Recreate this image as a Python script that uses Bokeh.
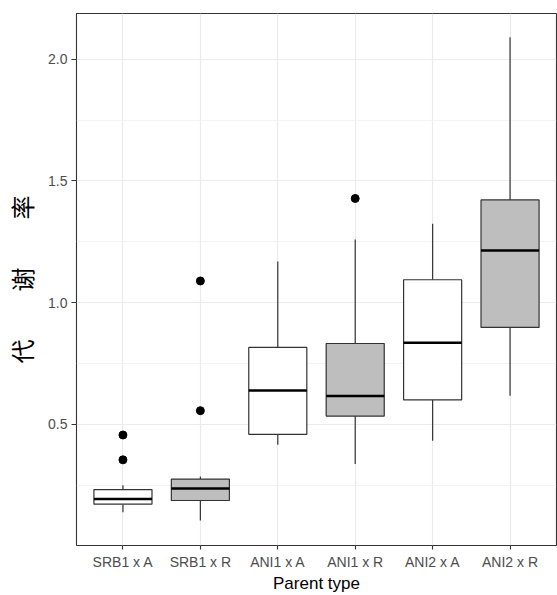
from bokeh.plotting import figure
from bokeh.models import FactorRange, Range1d, FixedTicker, PrintfTickFormatter, ColumnDataSource
from bokeh.embed import file_html
from bokeh.resources import INLINE

# ---- data ----
categories = ["SRB1 x A", "SRB1 x R", "ANI1 x A", "ANI1 x R", "ANI2 x A", "ANI2 x R"]
lower_whisker = [0.139, 0.105, 0.416, 0.337, 0.432, 0.617]
q1 = [0.172, 0.187, 0.459, 0.534, 0.600, 0.898]
median = [0.193, 0.236, 0.639, 0.616, 0.835, 1.214]
q3 = [0.232, 0.275, 0.816, 0.832, 1.094, 1.422]
upper_whisker = [0.250, 0.286, 1.169, 1.259, 1.324, 2.090]
outlier_cat = ["SRB1 x A", "SRB1 x A", "SRB1 x R", "SRB1 x R", "ANI1 x R"]
outlier_val = [0.456, 0.354, 0.556, 1.089, 1.428]
y_ticks = [0.5, 1.0, 1.5, 2.0]
y_minor = [0.25, 0.75, 1.25, 1.75]

# ---- styles ----
fills = ["#BEBEBE" if c.endswith("R") else "#FFFFFF" for c in categories]
half = 0.375

src = ColumnDataSource(dict(
    cat=categories, lo=lower_whisker, q1=q1, med=median, q3=q3, hi=upper_whisker,
    fill=fills,
    left=[(c, -half) for c in categories],
    right=[(c, half) for c in categories],
))

p = figure(
    width=557, height=595,
    x_range=FactorRange(*categories, range_padding=0.1, range_padding_units="absolute"),
    y_range=Range1d(0.002, 2.188),
    output_backend="svg", toolbar_location=None,
    min_border_left=76, min_border_right=1, min_border_top=13, min_border_bottom=48,
)

# whiskers
p.segment(x0="cat", y0="q3", x1="cat", y1="hi", source=src, line_color="#333333", line_width=1.2)
p.segment(x0="cat", y0="q1", x1="cat", y1="lo", source=src, line_color="#333333", line_width=1.2)
# boxes
p.vbar(x="cat", width=2 * half, bottom="q1", top="q3", source=src,
       fill_color="fill", line_color="#333333", line_width=1.2)
# medians
p.segment(x0="left", y0="med", x1="right", y1="med", source=src, line_color="#000000", line_width=2.5)
# outliers
p.scatter(x=outlier_cat, y=outlier_val, size=8, color="#000000")

# axes & grid (theme_bw look)
p.outline_line_color = "#333333"
p.outline_line_width = 1.1
p.background_fill_color = "white"
p.border_fill_color = "white"

p.xgrid.grid_line_color = "#EBEBEB"
p.xgrid.grid_line_width = 1.2
p.ygrid.grid_line_color = "#EBEBEB"
p.ygrid.grid_line_width = 1.2
p.ygrid.minor_grid_line_color = "#F0F0F0"
p.ygrid.minor_grid_line_width = 0.8

p.yaxis.ticker = FixedTicker(ticks=y_ticks, minor_ticks=y_minor)
p.yaxis.formatter = PrintfTickFormatter(format="%.1f")

for ax in (p.xaxis[0], p.yaxis[0]):
    ax.axis_line_color = None
    ax.major_tick_line_color = "#333333"
    ax.major_tick_line_width = 1.1
    ax.major_tick_in = 0
    ax.minor_tick_line_color = None
    ax.major_label_text_color = "#4D4D4D"
    ax.major_label_text_font = "Liberation Sans"
    ax.major_label_text_font_size = "14px"
    ax.axis_label_text_color = "#000000"
    ax.axis_label_text_font_style = "normal"

p.xaxis.axis_label = "Parent type"
p.xaxis.axis_label_text_font = "Liberation Sans"
p.xaxis.axis_label_text_font_size = "17px"
p.xaxis.major_tick_out = 4
p.xaxis.major_label_standoff = 4
p.xaxis.axis_label_standoff = 1

p.yaxis.axis_label = "代\u3000\u3000谢\u3000\u3000率"
p.yaxis.axis_label_text_font = "Noto Sans CJK SC"
p.yaxis.axis_label_text_font_size = "24px"
p.yaxis.major_tick_out = 5
p.yaxis.major_label_standoff = 4
p.yaxis.axis_label_standoff = 6

open("out.html", "w").write(file_html(p, INLINE))
